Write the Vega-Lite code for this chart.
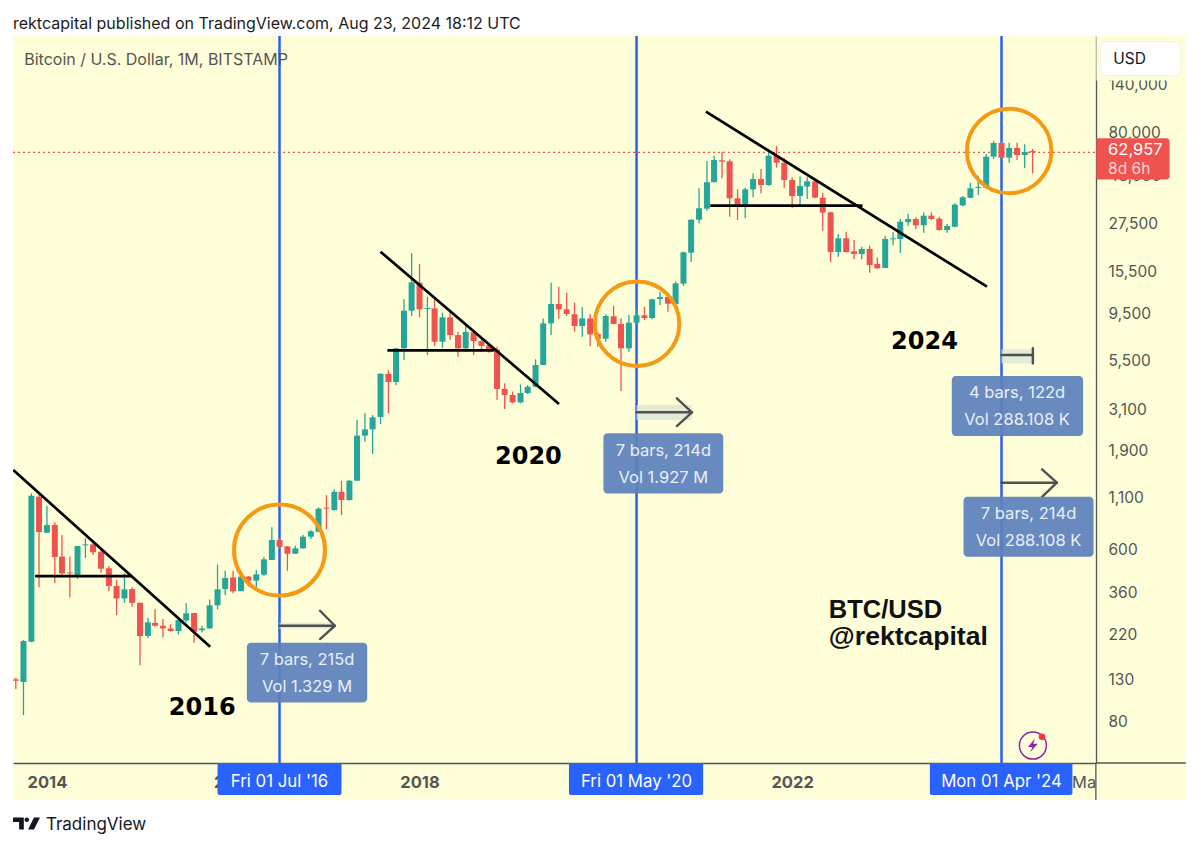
{
  "$schema": "https://vega.github.io/schema/vega-lite/v6.json",
  "autosize": {"type": "none"},
  "padding": {"left": 13, "top": 36, "right": 104, "bottom": 84},
  "width": 1083,
  "height": 727,
  "background": "#feffd8",
  "view": {"stroke": null},
  "datasets": {
    "candles": [
      {"date":"2013-09-01","open":130.4,"high":132.9,"low":116.4,"close":128.3},
      {"date":"2013-10-01","open":126.4,"high":206.8,"low":85.8,"close":204.4},
      {"date":"2013-11-01","open":202.7,"high":1156,"low":202,"close":1124},
      {"date":"2013-12-01","open":1111,"high":1156,"low":383.9,"close":734},
      {"date":"2014-01-01","open":728,"high":995.6,"low":728,"close":796.6},
      {"date":"2014-02-01","open":797,"high":823,"low":402,"close":547.6},
      {"date":"2014-03-01","open":550,"high":708,"low":438,"close":452},
      {"date":"2014-04-01","open":457,"high":550,"low":341,"close":452},
      {"date":"2014-05-01","open":434.8,"high":623,"low":423,"close":623},
      {"date":"2014-06-01","open":628,"high":682,"low":541,"close":635},
      {"date":"2014-07-01","open":635,"high":663,"low":560,"close":579},
      {"date":"2014-08-01","open":582,"high":606,"low":455.5,"close":477.6},
      {"date":"2014-09-01","open":480,"high":492.7,"low":367,"close":389.6},
      {"date":"2014-10-01","open":389.6,"high":418,"low":277,"close":337},
      {"date":"2014-11-01","open":337,"high":452,"low":320,"close":374.8},
      {"date":"2014-12-01","open":376,"high":384,"low":306,"close":320},
      {"date":"2015-01-01","open":320,"high":320,"low":154,"close":216.7},
      {"date":"2015-02-01","open":217,"high":268.6,"low":211,"close":254.5},
      {"date":"2015-03-01","open":253,"high":296.5,"low":241.9,"close":244.6},
      {"date":"2015-04-01","open":244.6,"high":264.6,"low":213,"close":237},
      {"date":"2015-05-01","open":237,"high":248.7,"low":228,"close":230},
      {"date":"2015-06-01","open":230,"high":266.7,"low":221,"close":261.5},
      {"date":"2015-07-01","open":260,"high":318,"low":254.5,"close":282.9},
      {"date":"2015-08-01","open":284,"high":284,"low":200.4,"close":228},
      {"date":"2015-09-01","open":232,"high":244.6,"low":226,"close":237},
      {"date":"2015-10-01","open":237,"high":333,"low":236,"close":310.6},
      {"date":"2015-11-01","open":311,"high":502,"low":296.5,"close":375},
      {"date":"2015-12-01","open":376,"high":466,"low":350.7,"close":428},
      {"date":"2016-01-01","open":431,"high":466,"low":357.5,"close":366},
      {"date":"2016-02-01","open":367,"high":438,"low":366,"close":435},
      {"date":"2016-03-01","open":435,"high":438,"low":387,"close":414.6},
      {"date":"2016-04-01","open":415,"high":470,"low":384,"close":447},
      {"date":"2016-05-01","open":445,"high":548,"low":438,"close":533},
      {"date":"2016-06-01","open":528.6,"high":775.6,"low":528,"close":668},
      {"date":"2016-07-01","open":668,"high":687,"low":606,"close":617},
      {"date":"2016-08-01","open":620,"high":623,"low":466,"close":569},
      {"date":"2016-09-01","open":569,"high":625,"low":567,"close":606},
      {"date":"2016-10-01","open":606,"high":708,"low":603,"close":695},
      {"date":"2016-11-01","open":695,"high":751.5,"low":677,"close":740},
      {"date":"2016-12-01","open":737,"high":980,"low":734,"close":965},
      {"date":"2017-01-01","open":976,"high":1132,"low":758,"close":965},
      {"date":"2017-02-01","open":950,"high":1211,"low":942,"close":1177},
      {"date":"2017-03-01","open":1177,"high":1340,"low":896,"close":1068},
      {"date":"2017-04-01","open":1068,"high":1351,"low":1059,"close":1340},
      {"date":"2017-05-01","open":1340,"high":2730,"low":1340,"close":2273},
      {"date":"2017-06-01","open":2273,"high":2954,"low":2117,"close":2447},
      {"date":"2017-07-01","open":2447,"high":2895,"low":1832,"close":2817},
      {"date":"2017-08-01","open":2830,"high":4720,"low":2605,"close":4700},
      {"date":"2017-09-01","open":4690,"high":4907,"low":2954,"close":4262},
      {"date":"2017-10-01","open":4262,"high":6375,"low":4110,"close":6330},
      {"date":"2017-11-01","open":6330,"high":11250,"low":5518,"close":9840},
      {"date":"2017-12-01","open":9840,"high":19300,"low":9245,"close":13720},
      {"date":"2018-01-01","open":13680,"high":17010,"low":9100,"close":10000},
      {"date":"2018-02-01","open":10040,"high":11600,"low":5851,"close":10160},
      {"date":"2018-03-01","open":10120,"high":11510,"low":6503,"close":6840},
      {"date":"2018-04-01","open":6840,"high":9613,"low":6375,"close":9104},
      {"date":"2018-05-01","open":9104,"high":9840,"low":6977,"close":7398},
      {"date":"2018-06-01","open":7398,"high":7692,"low":5735,"close":6330},
      {"date":"2018-07-01","open":6330,"high":8317,"low":6080,"close":7662},
      {"date":"2018-08-01","open":7635,"high":7846,"low":5851,"close":6895},
      {"date":"2018-09-01","open":6895,"high":7255,"low":6080,"close":6503},
      {"date":"2018-10-01","open":6560,"high":6710,"low":6013,"close":6205},
      {"date":"2018-11-01","open":6230,"high":6450,"low":3452,"close":3927},
      {"date":"2018-12-01","open":3927,"high":4200,"low":3107,"close":3660},
      {"date":"2019-01-01","open":3660,"high":3811,"low":3320,"close":3358},
      {"date":"2019-02-01","open":3358,"high":4148,"low":3320,"close":3746},
      {"date":"2019-03-01","open":3746,"high":4110,"low":3700,"close":4035},
      {"date":"2019-04-01","open":4035,"high":5563,"low":4000,"close":5203},
      {"date":"2019-05-01","open":5203,"high":8990,"low":5203,"close":8483},
      {"date":"2019-06-01","open":8483,"high":13680,"low":7398,"close":10645},
      {"date":"2019-07-01","open":10645,"high":13040,"low":8990,"close":10000},
      {"date":"2019-08-01","open":10000,"high":12150,"low":9245,"close":9465},
      {"date":"2019-09-01","open":9430,"high":10810,"low":7692,"close":8223},
      {"date":"2019-10-01","open":8223,"high":10240,"low":7260,"close":8990},
      {"date":"2019-11-01","open":8990,"high":9465,"low":6503,"close":7460},
      {"date":"2019-12-01","open":7490,"high":7635,"low":6450,"close":7085},
      {"date":"2020-01-01","open":7085,"high":9430,"low":6840,"close":9245},
      {"date":"2020-02-01","open":9215,"high":10430,"low":8385,"close":8425},
      {"date":"2020-03-01","open":8425,"high":8990,"low":3835,"close":6330},
      {"date":"2020-04-01","open":6330,"high":9355,"low":6080,"close":8550},
      {"date":"2020-05-01","open":8550,"high":9921,"low":8425,"close":9320},
      {"date":"2020-06-01","open":9320,"high":10310,"low":8822,"close":9034},
      {"date":"2020-07-01","open":9034,"high":11330,"low":8900,"close":11250},
      {"date":"2020-08-01","open":11290,"high":12290,"low":10520,"close":11540},
      {"date":"2020-09-01","open":11540,"high":12150,"low":9720,"close":10684},
      {"date":"2020-10-01","open":10645,"high":13860,"low":10397,"close":13560},
      {"date":"2020-11-01","open":13510,"high":19660,"low":13144,"close":19527},
      {"date":"2020-12-01","open":19430,"high":28720,"low":17415,"close":28600},
      {"date":"2021-01-01","open":28600,"high":41350,"low":27430,"close":32700},
      {"date":"2021-02-01","open":32550,"high":56950,"low":31800,"close":44380},
      {"date":"2021-03-01","open":44380,"high":60620,"low":44380,"close":57625},
      {"date":"2021-04-01","open":57400,"high":63500,"low":46500,"close":56500},
      {"date":"2021-05-01","open":56750,"high":58100,"low":29620,"close":36780},
      {"date":"2021-06-01","open":36780,"high":40860,"low":28508,"close":34280},
      {"date":"2021-07-01","open":34280,"high":41650,"low":29080,"close":40860},
      {"date":"2021-08-01","open":40860,"high":49200,"low":37200,"close":46100},
      {"date":"2021-09-01","open":46100,"high":51850,"low":38970,"close":42970},
      {"date":"2021-10-01","open":42970,"high":63500,"low":42640,"close":60620},
      {"date":"2021-11-01","open":60620,"high":67900,"low":52650,"close":55800},
      {"date":"2021-12-01","open":55800,"high":58750,"low":41630,"close":45575},
      {"date":"2022-01-01","open":45575,"high":47040,"low":32700,"close":37770},
      {"date":"2022-02-01","open":37770,"high":47600,"low":33980,"close":42480},
      {"date":"2022-03-01","open":42200,"high":47040,"low":36480,"close":44880},
      {"date":"2022-04-01","open":44880,"high":46100,"low":36780,"close":37050},
      {"date":"2022-05-01","open":37050,"high":39300,"low":25150,"close":31100},
      {"date":"2022-06-01","open":31200,"high":31450,"low":17360,"close":19580},
      {"date":"2022-07-01","open":19580,"high":24190,"low":18550,"close":23000},
      {"date":"2022-08-01","open":23000,"high":24860,"low":19430,"close":19580},
      {"date":"2022-09-01","open":19750,"high":22547,"low":17980,"close":19135},
      {"date":"2022-10-01","open":19135,"high":20830,"low":18000,"close":20290},
      {"date":"2022-11-01","open":20290,"high":21090,"low":15380,"close":16810},
      {"date":"2022-12-01","open":17030,"high":18350,"low":16100,"close":16180},
      {"date":"2023-01-01","open":16240,"high":23630,"low":16180,"close":22810},
      {"date":"2023-02-01","open":22720,"high":24730,"low":21190,"close":23000},
      {"date":"2023-03-01","open":22810,"high":28850,"low":19430,"close":27950},
      {"date":"2023-04-01","open":27800,"high":30590,"low":26670,"close":28850},
      {"date":"2023-05-01","open":28850,"high":29450,"low":25560,"close":26800},
      {"date":"2023-06-01","open":26800,"high":31100,"low":24560,"close":29990},
      {"date":"2023-07-01","open":29990,"high":31200,"low":28508,"close":28850},
      {"date":"2023-08-01","open":28950,"high":29620,"low":25150,"close":25353},
      {"date":"2023-09-01","open":25353,"high":27180,"low":24560,"close":26570},
      {"date":"2023-10-01","open":26350,"high":34700,"low":26170,"close":34140},
      {"date":"2023-11-01","open":33850,"high":37770,"low":33500,"close":37200},
      {"date":"2023-12-01","open":37050,"high":44100,"low":36780,"close":41350},
      {"date":"2024-01-01","open":41500,"high":47950,"low":38200,"close":42000},
      {"date":"2024-02-01","open":41650,"high":61830,"low":41350,"close":59930},
      {"date":"2024-03-01","open":59930,"high":72260,"low":58300,"close":70340},
      {"date":"2024-04-01","open":70340,"high":72260,"low":58750,"close":59200},
      {"date":"2024-05-01","open":59200,"high":70560,"low":55800,"close":66350},
      {"date":"2024-06-01","open":66350,"high":70560,"low":57625,"close":61100},
      {"date":"2024-07-01","open":61100,"high":69340,"low":52480,"close":63270},
      {"date":"2024-08-01","open":64000,"high":65560,"low":49280,"close":62957}
    ],
    "halvings": [
      {"date":"2016-07-01","price":246700,"price2":48.9},
      {"date":"2020-05-01","price":246700,"price2":48.9},
      {"date":"2024-04-01","price":246700,"price2":48.9}
    ],
    "trendlines": [
      {"date":"2013-08-22","price":1519,"date2":"2015-10-03","price2":191.2},
      {"date":"2013-11-16","price":438,"date2":"2014-12-01","price2":438},
      {"date":"2017-08-01","price":19650,"date2":"2019-07-02","price2":3294},
      {"date":"2017-08-28","price":6180,"date2":"2018-10-20","price2":6180},
      {"date":"2021-01-28","price":101550,"date2":"2024-02-04","price2":13040},
      {"date":"2021-02-14","price":33750,"date2":"2022-10-04","price2":33750}
    ],
    "bands": [
      {"date":"2016-07-01","date2":"2017-02-03","price":253.4,"price2":236.3},
      {"date":"2020-05-01","date2":"2020-12-04","price":3255,"price2":2730},
      {"date":"2024-04-01","date2":"2024-08-02","price":6250,"price2":5305}
    ],
    "arrows": [
      {"date":"2016-07-01","price":244.6,"date2":"2017-02-03","price2":244.6},
      {"date":"2016-12-07","price":291.7,"date2":"2017-02-03","price2":244.6},
      {"date":"2016-12-07","price":209.3,"date2":"2017-02-03","price2":244.6},
      {"date":"2020-05-01","price":2990,"date2":"2020-12-04","price2":2990},
      {"date":"2020-10-06","price":3521,"date2":"2020-12-04","price2":2990},
      {"date":"2020-10-06","price":2545,"date2":"2020-12-04","price2":2990},
      {"date":"2024-04-01","price":5851,"date2":"2024-08-02","price2":5851},
      {"date":"2024-08-02","price":6330,"date2":"2024-08-02","price2":5305},
      {"date":"2024-04-01","price":1309,"date2":"2024-11-04","price2":1309},
      {"date":"2024-09-07","price":1531,"date2":"2024-11-04","price2":1309},
      {"date":"2024-09-07","price":1110,"date2":"2024-11-04","price2":1309}
    ],
    "boxes": [
      {"date":"2016-02-24","date2":"2017-06-10","price":200.4,"price2":99.5},
      {"date":"2019-12-23","date2":"2021-04-06","price":2335,"price2":1155},
      {"date":"2023-09-19","date2":"2025-02-15","price":4574,"price2":2263},
      {"date":"2023-11-04","date2":"2025-03-28","price":1110,"price2":549.8}
    ],
    "boxText": [
      {"date":"2016-10-17","price":163.6,"label":"7 bars, 215d"},
      {"date":"2016-10-17","price":119.6,"label":"Vol 1.329 M"},
      {"date":"2020-08-14","price":1897,"label":"7 bars, 214d"},
      {"date":"2020-08-14","price":1388,"label":"Vol 1.927 M"},
      {"date":"2024-06-01","price":3732,"label":"4 bars, 122d"},
      {"date":"2024-06-01","price":2730,"label":"Vol 288.108 K"},
      {"date":"2024-07-16","price":906.7,"label":"7 bars, 214d"},
      {"date":"2024-07-16","price":663,"label":"Vol 288.108 K"}
    ],
    "years": [
      {"date":"2015-04-24","price":93.2,"label":"2016"},
      {"date":"2018-10-24","price":1770,"label":"2020"},
      {"date":"2023-01-24","price":6813,"label":"2024"}
    ],
    "axisCover": [
      {"date":"2025-04-08","date2":"2026-03-25","price":48.9,"price2":31.7},
      {"date":"2025-04-08","date2":"2026-03-25","price":246700,"price2":146200}
    ],
    "axisLines": [
      {"date":"2025-04-06","price":48.9,"date2":"2025-04-06","price2":31.7},
      {"date":"2025-04-06","price":48.9,"date2":"2026-03-25","price2":48.9}
    ],
    "dateBoxes": [
      {"date":"2015-11-01","date2":"2017-03-01","price":48.9,"price2":33.6},
      {"date":"2019-08-10","date2":"2021-01-17","price":48.9,"price2":33.6},
      {"date":"2023-06-25","date2":"2025-01-04","price":48.9,"price2":33.6}
    ],
    "dateText": [
      {"date":"2016-07-01","price":39.25,"label":"Fri 01 Jul '16"},
      {"date":"2020-05-01","price":39.25,"label":"Fri 01 May '20"},
      {"date":"2024-04-01","price":39.25,"label":"Mon 01 Apr '24"}
    ],
    "strips": [
      {"date":"2013-01-01","date2":"2013-08-21","price":1,"price2":10000000},
      {"date":"2026-03-25","date2":"2027-06-01","price":1,"price2":10000000},
      {"date":"2013-01-01","date2":"2027-06-01","price":246700,"price2":10000000},
      {"date":"2013-01-01","date2":"2027-06-01","price":1,"price2":31.7}
    ]
  },
  "encoding": {
    "x": {
      "field": "date",
      "type": "temporal",
      "title": null,
      "scale": {
        "type": "utc",
        "padding": 0,
        "domain": [
          {"year": 2013, "month": 8, "date": 21, "utc": true},
          {"year": 2025, "month": 4, "date": 6, "hours": 12, "utc": true}
        ]
      },
      "axis": {
        "orient": "bottom",
        "grid": false,
        "ticks": false,
        "domainColor": "#555555",
        "domainWidth": 1.3,
        "labelPadding": 11,
        "labelFont": "Inter",
        "labelFontSize": 16.5,
        "labelColor": "#555555",
        "labelFontWeight": {"condition": {"test": "utcmonth(datum.value)==0", "value": "bold"}, "value": "normal"},
        "labelExpr": "utcmonth(datum.value)==2 ? 'Mar' : utcyear(datum.value)",
        "labelOverlap": false,
        "labelFlush": false,
        "values": [
          {"year": 2014, "month": 1, "date": 1, "utc": true},
          {"year": 2016, "month": 1, "date": 1, "utc": true},
          {"year": 2018, "month": 1, "date": 1, "utc": true},
          {"year": 2020, "month": 1, "date": 1, "utc": true},
          {"year": 2022, "month": 1, "date": 1, "utc": true},
          {"year": 2024, "month": 1, "date": 1, "utc": true},
          {"year": 2025, "month": 3, "date": 1, "utc": true}
        ]
      }
    },
    "y": {
      "field": "price",
      "type": "quantitative",
      "title": null,
      "scale": {"type": "log", "domain": [48.9, 246700], "nice": false, "zero": false},
      "axis": {
        "orient": "right",
        "grid": false,
        "ticks": false,
        "domainColor": "#555555",
        "domainWidth": 1.3,
        "labelPadding": 12,
        "labelFont": "Inter",
        "labelFontSize": 15.5,
        "labelColor": "#555555",
        "labelOverlap": false,
        "labelFlush": false,
        "format": ",",
        "values": [80, 130, 220, 360, 600, 1100, 1900, 3100, 5500, 9500, 15500, 27500, 48000, 80000, 140000]
      }
    }
  },
  "layer": [
    {
      "data": {"values": [{"date": "2013-08-21", "date2": "2025-04-06", "price": 62957}], "format": {"parse": {"date": "date", "date2": "date"}}},
      "mark": {"type": "rule", "color": "#ef5350", "strokeWidth": 1.2, "strokeDash": [2, 3]},
      "encoding": {"x2": {"field": "date2"}}
    },
    {
      "data": {"name": "halvings"},
      "mark": {"type": "rule", "color": "#2b5fee", "strokeWidth": 2.5},
      "encoding": {"y2": {"field": "price2"}}
    },
    {
      "data": {"name": "candles"},
      "mark": {"type": "rule", "strokeWidth": 1.3},
      "encoding": {
        "y": {"field": "high", "type": "quantitative", "title": null, "scale": {"type": "log", "domain": [48.9, 246700], "nice": false, "zero": false}},
        "y2": {"field": "low"},
        "color": {"condition": {"test": "datum.close>=datum.open", "value": "#26a69a"}, "value": "#ef5350"}
      }
    },
    {
      "data": {"name": "candles"},
      "mark": {"type": "bar", "size": 6},
      "encoding": {
        "y": {"field": "open", "type": "quantitative", "title": null, "scale": {"type": "log", "domain": [48.9, 246700], "nice": false, "zero": false}},
        "y2": {"field": "close"},
        "color": {"condition": {"test": "datum.close>=datum.open", "value": "#26a69a"}, "value": "#ef5350"}
      }
    },
    {
      "data": {"values": [{"date": "2016-07-01", "price": 594}]},
      "mark": {"type": "point", "shape": "circle", "filled": false, "size": 8281, "color": "#f59a14", "strokeWidth": 4, "opacity": 1}
    },
    {
      "data": {"values": [{"date": "2020-05-03", "price": 8450}, {"date": "2024-05-01", "price": 64030}]},
      "mark": {"type": "point", "shape": "circle", "filled": false, "size": 7140, "color": "#f59a14", "strokeWidth": 4, "opacity": 1}
    },
    {
      "data": {"name": "bands", "format": {"parse": {"date": "date", "date2": "date"}}},
      "mark": {"type": "rect", "color": "#d9e6d6", "opacity": 0.8},
      "encoding": {"x2": {"field": "date2"}, "y2": {"field": "price2"}}
    },
    {
      "data": {"name": "arrows", "format": {"parse": {"date": "date", "date2": "date"}}},
      "mark": {"type": "rule", "color": "#505050", "strokeWidth": 2.4, "strokeCap": "round"},
      "encoding": {"x2": {"field": "date2"}, "y2": {"field": "price2"}}
    },
    {
      "data": {"name": "trendlines", "format": {"parse": {"date": "date", "date2": "date"}}},
      "mark": {"type": "rule", "color": "#000000", "strokeWidth": 2.7},
      "encoding": {"x2": {"field": "date2"}, "y2": {"field": "price2"}}
    },
    {
      "data": {"name": "boxes", "format": {"parse": {"date": "date", "date2": "date"}}},
      "mark": {"type": "rect", "color": "#5c81bb", "opacity": 0.93, "cornerRadius": 4},
      "encoding": {"x2": {"field": "date2"}, "y2": {"field": "price2"}}
    },
    {
      "data": {"name": "boxText"},
      "mark": {"type": "text", "font": "Inter", "fontSize": 16.5, "color": "#e9f0fb", "align": "center", "baseline": "middle"},
      "encoding": {"text": {"field": "label"}}
    },
    {
      "data": {"name": "years"},
      "mark": {"type": "text", "font": "DejaVu Sans", "fontWeight": "bold", "fontSize": 24, "color": "#000000", "align": "left", "baseline": "middle"},
      "encoding": {"text": {"field": "label"}}
    },
    {
      "data": {"values": [{"date": "2022-05-25", "price": 294.1, "label": "BTC/USD"}]},
      "mark": {"type": "text", "font": "Liberation Sans", "fontWeight": "bold", "fontSize": 25.5, "color": "#111111", "align": "left", "baseline": "middle"},
      "encoding": {"text": {"field": "label"}}
    },
    {
      "data": {"values": [{"date": "2022-05-25", "price": 215, "label": "@rektcapital"}]},
      "mark": {"type": "text", "font": "Liberation Sans", "fontWeight": "bold", "fontSize": 26.6, "color": "#111111", "align": "left", "baseline": "middle"},
      "encoding": {"text": {"field": "label"}}
    },
    {
      "data": {"values": [{"date": "2024-08-02", "price": 60}]},
      "mark": {"type": "point", "shape": "circle", "filled": false, "size": 729, "color": "#8e24aa", "strokeWidth": 1.5, "opacity": 1}
    },
    {
      "data": {"values": [{"date": "2024-08-02", "price": 60}]},
      "mark": {"type": "point", "shape": "M.3,-1L-.7,.2H-.05L-.4,1L.7,-.25H.05Z", "filled": true, "size": 196, "color": "#8e24aa", "strokeWidth": 0, "opacity": 1}
    },
    {
      "data": {"values": [{"date": "2024-09-07", "price": 66.5}]},
      "mark": {"type": "point", "shape": "circle", "filled": true, "size": 44, "color": "#f23645", "strokeWidth": 0, "opacity": 1}
    },
    {
      "data": {"name": "axisCover", "format": {"parse": {"date": "date", "date2": "date"}}},
      "mark": {"type": "rect", "color": "#feffd8"},
      "encoding": {"x2": {"field": "date2"}, "y2": {"field": "price2"}}
    },
    {
      "data": {"name": "axisLines", "format": {"parse": {"date": "date", "date2": "date"}}},
      "mark": {"type": "rule", "color": "#555555", "strokeWidth": 1.3},
      "encoding": {"x2": {"field": "date2"}, "y2": {"field": "price2"}}
    },
    {
      "data": {"name": "dateBoxes", "format": {"parse": {"date": "date", "date2": "date"}}},
      "mark": {"type": "rect", "color": "#2962ff", "cornerRadiusBottomLeft": 2, "cornerRadiusBottomRight": 2},
      "encoding": {"x2": {"field": "date2"}, "y2": {"field": "price2"}}
    },
    {
      "data": {"name": "dateText"},
      "mark": {"type": "text", "font": "Inter", "fontSize": 16.8, "color": "#ffffff", "align": "center", "baseline": "middle"},
      "encoding": {"text": {"field": "label"}}
    },
    {
      "data": {"values": [{"date": "2025-04-08", "date2": "2026-01-20", "price": 74300, "price2": 45800}], "format": {"parse": {"date": "date", "date2": "date"}}},
      "mark": {"type": "rect", "color": "#ef5350", "cornerRadiusTopRight": 3, "cornerRadiusBottomRight": 3},
      "encoding": {"x2": {"field": "date2"}, "y2": {"field": "price2"}}
    },
    {
      "data": {"values": [{"date": "2025-05-24", "price": 64800, "label": "62,957"}]},
      "mark": {"type": "text", "font": "Inter", "fontSize": 16.5, "color": "#ffffff", "align": "left", "baseline": "middle"},
      "encoding": {"text": {"field": "label"}}
    },
    {
      "data": {"values": [{"date": "2025-05-24", "price": 51800, "label": "8d 6h"}]},
      "mark": {"type": "text", "font": "Inter", "fontSize": 15.5, "color": "#fbd3d1", "align": "left", "baseline": "middle"},
      "encoding": {"text": {"field": "label"}}
    },
    {
      "data": {"values": [{"date": "2025-04-25", "date2": "2026-03-04", "price": 230900, "price2": 154960}], "format": {"parse": {"date": "date", "date2": "date"}}},
      "mark": {"type": "rect", "color": "#ffffff", "cornerRadius": 5, "stroke": "#f1f2e0", "strokeWidth": 1},
      "encoding": {"x2": {"field": "date2"}, "y2": {"field": "price2"}}
    },
    {
      "data": {"values": [{"date": "2025-06-13", "price": 189100, "label": "USD"}]},
      "mark": {"type": "text", "font": "Inter", "fontSize": 15.5, "color": "#131722", "align": "left", "baseline": "middle"},
      "encoding": {"text": {"field": "label"}}
    },
    {
      "data": {"values": [{"date": "2013-10-04", "price": 186250, "label": "Bitcoin / U.S. Dollar, 1M, BITSTAMP"}]},
      "mark": {"type": "text", "font": "Inter", "fontSize": 16, "color": "#555555", "align": "left", "baseline": "middle"},
      "encoding": {"text": {"field": "label"}}
    },
    {
      "data": {"name": "strips", "format": {"parse": {"date": "date", "date2": "date"}}},
      "mark": {"type": "rect", "color": "#ffffff"},
      "encoding": {"x2": {"field": "date2"}, "y2": {"field": "price2"}}
    },
    {
      "data": {"values": [{"date": "2013-08-21", "price": 284500, "label": "rektcapital published on TradingView.com, Aug 23, 2024 18:12 UTC"}]},
      "mark": {"type": "text", "font": "Inter", "fontSize": 16, "color": "#1c1c1c", "align": "left", "baseline": "middle"},
      "encoding": {"text": {"field": "label"}}
    },
    {
      "data": {"values": [{"date": "2013-10-13", "price": 24.05}]},
      "mark": {"type": "point", "shape": "M-1,-.45H-.2V.45H-.55V-.12H-1ZM-.15,-.28a.17,.17 0 1,0 .34,0a.17,.17 0 1,0 -.34,0ZM1,-.45L.55,.45H.12L.55,-.45Z", "filled": true, "size": 729, "color": "#131722", "strokeWidth": 0, "opacity": 1}
    },
    {
      "data": {"values": [{"date": "2013-12-28", "price": 23.7, "label": "TradingView"}]},
      "mark": {"type": "text", "font": "Inter", "fontSize": 17, "color": "#131722", "align": "left", "baseline": "middle"},
      "encoding": {"text": {"field": "label"}}
    }
  ]
}
